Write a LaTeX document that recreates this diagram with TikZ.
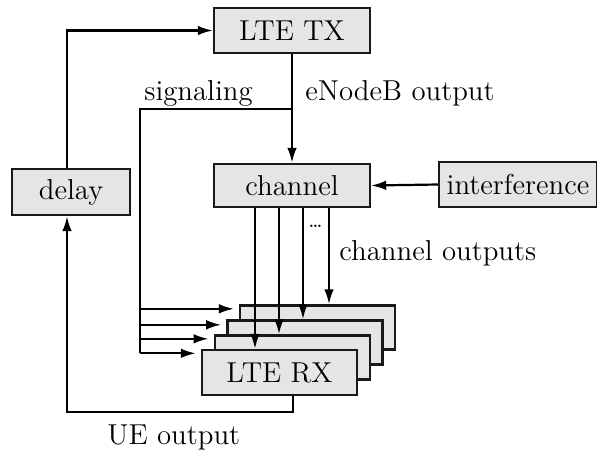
\documentclass[tikz,border=0pt]{standalone}
\usetikzlibrary{arrows.meta,calc}
\begin{document}
\begin{tikzpicture}[x=0.5pt,y=-0.5pt,
  font=\fontsize{14.4}{17}\selectfont,
  blk/.style={draw=black!90, line width=1.2pt, fill=gray!20, inner sep=0pt,
              minimum height=22.5pt},
  arr/.style={line width=1.1pt, -{Latex[length=7.5pt,width=4.8pt]}},
  wire/.style={line width=1.1pt},
  lbl/.style={inner sep=0pt, anchor=base west}]
\useasboundingbox (0,0) rectangle (597,455);

% main blocks
\node[blk, minimum width=78pt] (tx) at (292,30.5) {LTE TX};
\node[blk, minimum width=78pt, minimum height=21.5pt] (ch) at (292,185.5) {channel};
\node[blk, minimum width=79pt] (intf) at (518,184.5) {interference};
\node[blk, minimum width=59pt, minimum height=23pt] (delay) at (71,192) {delay};

% stacked receivers, back to front
\node[blk, minimum width=77.5pt, minimum height=22pt] (rx4) at (317.6,327.5) {};
\node[blk, minimum width=77.5pt, minimum height=22pt] (rx3) at (304.9,342.5) {};
\node[blk, minimum width=77.5pt, minimum height=22pt] (rx2) at (292.2,357.5) {};
\node[blk, minimum width=77.5pt] (rx1) at (279.5,372.5) {LTE RX};

% helper coordinates
\coordinate (dl) at (67,0);
\coordinate (sg) at (140,109);
\coordinate (o1) at (255,0);
\coordinate (o2) at (279,0);
\coordinate (o3) at (303,0);
\coordinate (o4) at (329,0);
\coordinate (ue) at (293,412);
\coordinate (i4) at ([yshift=-2.25pt]rx4.north west);
\coordinate (i3) at ([yshift=-2.75pt]rx3.north west);
\coordinate (i2) at ([yshift=-2.25pt]rx2.north west);
\coordinate (i1) at ([yshift=-2.25pt]rx1.north west);

% feedback loop through the delay
\draw[arr] (delay.north -| dl) |- (tx.west);
\draw[arr] (rx1.south -| ue) -- (ue) -| (delay.south -| dl);

% transmitter to channel, interference into channel
\draw[arr] (tx.south) -- (ch.north);
\draw[arr] (intf.west) -- (ch.east);

% signaling bus to every receiver
\draw[wire] (tx.south |- sg) -- (sg) -- (sg |- i1);
\foreach \r in {i4,i3,i2,i1}{
  \draw[arr, shorten >=2.5pt] (sg |- \r) -- (\r);
}

% channel outputs, one per receiver
\draw[arr] (ch.south -| o1) -- (rx1.north -| o1);
\draw[arr] (ch.south -| o2) -- (rx2.north -| o2);
\draw[arr] (ch.south -| o3) -- (rx3.north -| o3);
\draw[arr] (ch.south -| o4) -- (rx4.north -| o4);

% labels
\node[lbl] (lsig) at (144,100) {signaling};
\node[lbl] (lenb) at (305,100) {eNodeB output};
\node[lbl] (lch) at (339,260) {channel outputs};
\node[lbl] (lue) at (107,444) {UE output};
\node[inner sep=0pt, font=\fontsize{7.5}{8}\selectfont\bfseries] (dots) at (315.5,226) {\ldots};
\end{tikzpicture}
\end{document}
